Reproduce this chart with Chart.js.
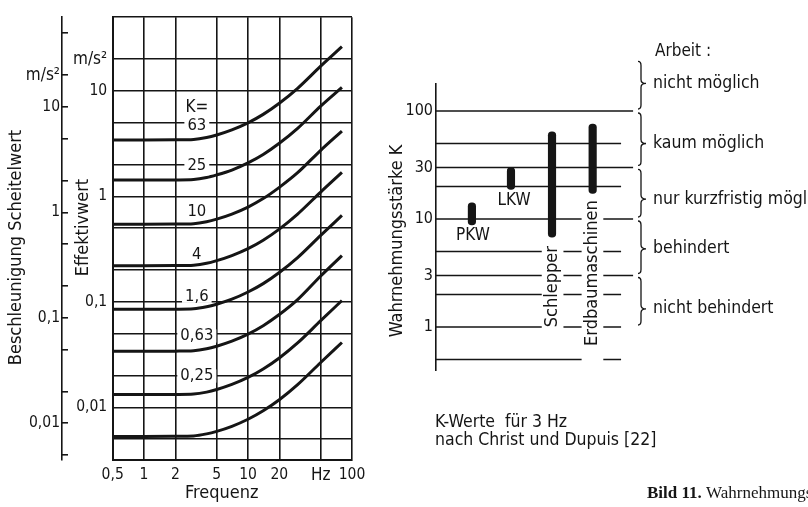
<!DOCTYPE html>
<html><head><meta charset="utf-8">
<script src="https://cdn.jsdelivr.net/npm/chart.js@4/dist/chart.umd.min.js"></script>
<style>
html,body{margin:0;padding:0;background:#fff;}
#wrap{position:relative;width:808px;height:507px;overflow:hidden;background:#fff;}
canvas{position:absolute;left:0;top:0;}
</style></head><body>
<div id="wrap"><canvas id="c1" width="808" height="507"></canvas><canvas id="c2" width="808" height="507"></canvas></div>
<script>
// ---------- Left panel: Effektivwert curves ----------
const freq   = [0.5, 1, 2, 3, 4, 5, 7, 10, 14, 20, 30, 50, 80];
const curveK = ['63', '25', '10', '4', '1,6', '0,63', '0,25', ''];
const k63    = [3.43, 3.43, 3.44, 3.47, 3.62, 3.83, 4.28, 4.99, 6.0, 7.65, 10.6, 17.2, 26.3];
const k25    = [1.43, 1.43, 1.434, 1.447, 1.51, 1.6, 1.78, 2.08, 2.5, 3.19, 4.42, 7.18, 10.8];
const k10    = [0.545, 0.545, 0.547, 0.552, 0.576, 0.609, 0.68, 0.793, 0.954, 1.22, 1.68, 2.74, 4.17];
const k4     = [0.22, 0.22, 0.221, 0.223, 0.232, 0.246, 0.275, 0.32, 0.385, 0.49, 0.68, 1.1, 1.69];
const k1_6   = [0.085, 0.085, 0.0853, 0.086, 0.0898, 0.095, 0.106, 0.124, 0.149, 0.19, 0.263, 0.427, 0.66];
const k0_63  = [0.034, 0.034, 0.0341, 0.0344, 0.0359, 0.038, 0.0424, 0.0495, 0.0595, 0.0758, 0.105, 0.176, 0.275];
const k0_25  = [0.0132, 0.0132, 0.01324, 0.01336, 0.01394, 0.01474, 0.01647, 0.0192, 0.0231, 0.0294, 0.0408, 0.0663, 0.103];
const k0_1   = [0.0053, 0.0053, 0.00532, 0.00536, 0.0056, 0.00592, 0.00661, 0.00771, 0.00928, 0.0118, 0.0164, 0.0266, 0.0412];
const curves = [k63, k25, k10, k4, k1_6, k0_63, k0_25, k0_1];

const xTicks      = [0.5, 1, 2, 5, 10, 20, 50, 100];
const xTickLabels = ['0,5', '1', '2', '5', '10', '20', 'Hz', '100'];
const yTicks      = [0.005, 0.01, 0.02, 0.05, 0.1, 0.2, 0.5, 1, 2, 5, 10, 20, 50];
const yTickLabels = ['', '0,01', '', '', '0,1', '', '', '1', '', '', '10', 'm/s²', ''];
const yOuterTicks = [0.005, 0.01, 0.02, 0.05, 0.1, 0.2, 0.5, 1, 2, 5, 10, 20, 50];
const yOuterLabels= ['', '0,01', '', '', '0,1', '', '', '1', '', '', '10', 'm/s²', ''];

// ---------- Right panel: K values ----------
const vehicles  = ['PKW', 'LKW', 'Schlepper', 'Erdbaumaschinen'];
const vehicleX  = [0.91, 1.9, 2.94, 3.97];
const kLow      = [8.8, 18.8, 6.8, 17.3];
const kHigh     = [14.1, 30, 64, 75.8];
const kTicks      = [100, 30, 10, 3, 1];
const kTickLabels = ['100', '30', '10', '3', '1'];
const segValue = [100, 50, 30, 20, 10, 10, 5, 5, 5, 3, 3, 3, 2, 2, 2, 1, 1, 1, 0.5, 0.5];
const segFrom  = [0, 0, 0, 0, 0, 4.24, 0, 3.23, 4.24, 0, 3.23, 4.24, 0, 3.23, 4.24, 0, 3.23, 4.24, 0, 4.24];
const segTo    = [5, 4.69, 5, 4.69, 3.69, 5, 2.68, 3.69, 4.69, 2.68, 3.69, 5, 2.68, 3.69, 4.69, 2.68, 3.69, 4.69, 3.69, 4.69];
const workLabels  = ['nicht möglich', 'kaum möglich', 'nur kurzfristig möglich', 'behindert', 'nicht behindert'];
const braceBounds = [300, 100, 30, 10, 3, 1];

// ---------- styling ----------
const ink = '#151515';
const numFont  = "'Liberation Sans Narrow', 'DejaVu Sans Condensed', 'DejaVu Sans', sans-serif";
const wordFont = "'DejaVu Sans Condensed', 'DejaVu Sans', sans-serif";
Chart.defaults.font.family = wordFont;
Chart.defaults.color = ink;

function txt(ctx, s, x, y, o = {}) {
  const size = o.size || 18, fam = o.fam || wordFont, align = o.align || 'center';
  ctx.save();
  ctx.translate(x, y);
  if (o.rot) ctx.rotate(o.rot);
  ctx.font = (o.weight || 'normal') + ' ' + size + 'px ' + fam;
  ctx.textAlign = align; ctx.textBaseline = 'middle';
  if (o.bg) {
    const w = ctx.measureText(s).width;
    ctx.fillStyle = '#fff';
    ctx.fillRect(-w / 2 - 3, -size * 0.4, w + 6, size * 0.8);
  }
  ctx.fillStyle = ink;
  ctx.fillText(s, 0, 0);
  ctx.restore();
}

const labelFreq = 3.22;
const labelAt = [4.66, 1.97, 0.724, 0.278, 0.113, 0.0475, 0.0198];

const leftNotes = {
  id: 'leftNotes',
  afterDraw(chart) {
    const {ctx, scales: {x, y}} = chart;
    const lx = x.getPixelForValue(labelFreq);
    txt(ctx, 'K=', lx, y.getPixelForValue(7.0), {size: 17});
    curveK.forEach((k, i) => {
      if (!k) return;
      txt(ctx, k, lx, y.getPixelForValue(labelAt[i]), {size: 16.5, fam: numFont, bg: true});
    });
    txt(ctx, 'Beschleunigung Scheitelwert', 16, 247.5, {size: 18, rot: -Math.PI / 2});
    txt(ctx, 'Effektivwert', 83, 227.5, {size: 18, rot: -Math.PI / 2});
    txt(ctx, 'Frequenz', 221.7, 493, {size: 18});
  }
};

function tickFont(c) {
  const l = c.tick && c.tick.label;
  if (l === 'm/s²' || l === 'Hz') return {family: wordFont, size: 17};
  return {family: numFont, size: 15.5};
}

new Chart(document.getElementById('c1'), {
  type: 'line',
  data: {
    datasets: curves.map(c => ({
      data: freq.map((f, i) => ({x: f, y: c[i]})),
      borderColor: ink, borderWidth: 3, pointRadius: 0,
      cubicInterpolationMode: 'monotone', fill: false
    }))
  },
  options: {
    responsive: false, animation: false, devicePixelRatio: 1,
    layout: {padding: {left: 0, right: 456, top: 10, bottom: 0}},
    plugins: {legend: {display: false}, tooltip: {enabled: false}},
    scales: {
      x: {
        type: 'logarithmic', min: 0.5, max: 100, position: 'bottom',
        afterBuildTicks: s => { s.ticks = xTicks.map(v => ({value: v})); },
        afterFit: s => { s.height = 47.5; },
        grid: {color: ink, lineWidth: 1.6, drawTicks: false},
        border: {display: true, color: ink, width: 2},
        ticks: {autoSkip: false, maxRotation: 0, padding: 6, color: ink, font: tickFont,
                callback: v => xTickLabels[xTicks.indexOf(v)]}
      },
      y: {
        type: 'logarithmic', position: 'left', weight: 0, min: 0.0032, max: 50,
        afterBuildTicks: s => { s.ticks = yTicks.map(v => ({value: v})); },
        afterFit: s => { s.width = 50.7; },
        grid: {color: ink, lineWidth: 1.6, drawTicks: false},
        border: {display: true, color: ink, width: 2},
        ticks: {autoSkip: false, padding: 5.5, color: ink, font: tickFont,
                callback: v => yTickLabels[yTicks.indexOf(v)]}
      },
      y2: {
        type: 'logarithmic', position: 'left', weight: 1,
        min: 0.0032 * Math.SQRT2, max: 50 * Math.SQRT2,
        afterBuildTicks: s => { s.ticks = yOuterTicks.map(v => ({value: v})); },
        afterFit: s => { s.width = 62; },
        grid: {drawOnChartArea: false, drawTicks: true, tickLength: -6, color: ink, lineWidth: 1.6},
        border: {display: true, color: ink, width: 1.6},
        ticks: {autoSkip: false, padding: 8, color: ink, font: tickFont,
                callback: v => yOuterLabels[yOuterTicks.indexOf(v)]}
      }
    }
  },
  plugins: [leftNotes]
});

// ---------- right panel ----------
const workAt = [180, 50, 15.3, 5.3, 1.47];

function brace(ctx, x, y1, y2, ym) {
  ctx.save();
  ctx.strokeStyle = ink; ctx.lineWidth = 1.3;
  ctx.beginPath();
  ctx.moveTo(x - 3, y1);
  ctx.quadraticCurveTo(x, y1, x, y1 + 4);
  ctx.lineTo(x, ym - 4);
  ctx.quadraticCurveTo(x, ym, x + 5, ym);
  ctx.quadraticCurveTo(x, ym, x, ym + 4);
  ctx.lineTo(x, y2 - 4);
  ctx.quadraticCurveTo(x, y2, x - 3, y2);
  ctx.stroke();
  ctx.restore();
}

const rightNotes = {
  id: 'rightNotes',
  afterDraw(chart) {
    const {ctx, scales: {x, y}} = chart;
    txt(ctx, 'Wahrnehmungsstärke K', 397, 241, {size: 18, rot: -Math.PI / 2});
    const bx = i => x.getPixelForValue(vehicleX[i]);
    txt(ctx, vehicles[0], bx(0) + 1, y.getPixelForValue(kLow[0]) + 11, {size: 17});
    txt(ctx, vehicles[1], bx(1) + 3, y.getPixelForValue(kLow[1]) + 11, {size: 17});
    txt(ctx, vehicles[2], bx(2), y.getPixelForValue(kLow[2]) + 9, {size: 18, rot: -Math.PI / 2, align: 'right'});
    txt(ctx, vehicles[3], bx(3), y.getPixelForValue(kLow[3]) + 7, {size: 18, rot: -Math.PI / 2, align: 'right'});

    txt(ctx, 'Arbeit :', 655, 51.5, {size: 17, align: 'left'});
    workLabels.forEach((w, i) => {
      const y1 = y.getPixelForValue(braceBounds[i]) + 2;
      const y2 = y.getPixelForValue(braceBounds[i + 1]) - 2;
      const ym = y.getPixelForValue(workAt[i]);
      brace(ctx, 641, y1, y2, ym);
      txt(ctx, w, 653, ym, {size: 17.5, align: 'left'});
    });

    txt(ctx, 'K-Werte  für 3 Hz', 435, 422, {size: 17.5, align: 'left'});
    txt(ctx, 'nach Christ und Dupuis [22]', 435, 440, {size: 17.5, align: 'left'});

    ctx.save();
    ctx.fillStyle = ink; ctx.textBaseline = 'middle'; ctx.textAlign = 'left';
    ctx.font = "bold 17px 'Liberation Serif', 'DejaVu Serif', serif";
    ctx.fillText('Bild 11.', 647, 494);
    const w = ctx.measureText('Bild 11. ').width;
    ctx.font = "normal 17px 'Liberation Serif', 'DejaVu Serif', serif";
    ctx.fillText('Wahrnehmungsstärke', 647 + w, 494);
    ctx.restore();
  }
};

const lineSets = segValue.map((v, i) => ({
  type: 'line',
  data: [{x: segFrom[i], y: v}, {x: segTo[i], y: v}],
  borderColor: ink, borderWidth: 1.6, pointRadius: 0, order: 2
}));

new Chart(document.getElementById('c2'), {
  type: 'bar',
  data: {
    datasets: [{
      type: 'bar',
      data: vehicles.map((v, i) => ({x: vehicleX[i], y: [kLow[i], kHigh[i]]})),
      backgroundColor: ink, barThickness: 7.5, borderRadius: 4, borderSkipped: false, order: 0
    }].concat(lineSets)
  },
  options: {
    responsive: false, animation: false, devicePixelRatio: 1,
    layout: {padding: {left: 386, right: 174.7, top: 83.3, bottom: 136.3}},
    plugins: {legend: {display: false}, tooltip: {enabled: false}},
    scales: {
      x: {type: 'linear', min: 0, max: 5, offset: false, display: false},
      y: {
        type: 'logarithmic', position: 'left', min: 0.394, max: 180.5,
        afterBuildTicks: s => { s.ticks = kTicks.map(v => ({value: v})); },
        afterFit: s => { s.width = 50; },
        grid: {display: false, drawTicks: false},
        border: {display: true, color: ink, width: 1.6},
        ticks: {autoSkip: false, padding: 3, color: ink, font: {family: numFont, size: 16},
                callback: v => kTickLabels[kTicks.indexOf(v)]}
      }
    }
  },
  plugins: [rightNotes]
});
</script>
</body></html>
